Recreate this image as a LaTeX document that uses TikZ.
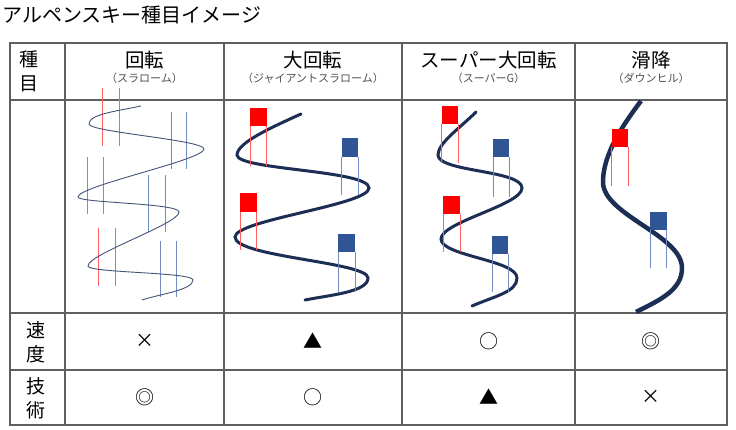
\documentclass[tikz,border=0pt]{standalone}
\usepackage{fontspec}
\setmainfont{Noto Sans CJK JP}
\definecolor{tablegray}{RGB}{95,95,95}
\definecolor{subgray}{RGB}{80,80,80}
\definecolor{slate}{RGB}{68,84,120}
\definecolor{navy}{RGB}{28,46,84}
\definecolor{rpolec}{RGB}{255,95,95}
\definecolor{bpolec}{RGB}{115,140,195}
\definecolor{bflagc}{RGB}{47,85,151}
\definecolor{flagred}{RGB}{255,0,0}
\begin{document}
\begin{tikzpicture}[x=1pt,y=-1pt,
  grid/.style={draw=tablegray, line width=1.1pt},
  titletext/.style={font=\fontsize{20}{22}\selectfont, anchor=west, inner sep=0pt},
  head/.style={font=\fontsize{19.5}{22}\selectfont, inner sep=0pt},
  sub/.style={font=\fontsize{11}{12}\selectfont, text=subgray, inner sep=0pt},
  rowlab/.style={font=\fontsize{19}{24}\selectfont, align=center, inner sep=0pt},
  sym/.style={font=\fontsize{19}{22}\selectfont, inner sep=0pt},
  thinline/.style={draw=slate, line width=0.9pt},
  thickline/.style={draw=navy, line width=3pt, line cap=round},
  thickerline/.style={draw=navy, line width=4.5pt},
  rpole/.style={draw=rpolec, line width=0.9pt},
  bpole/.style={draw=bpolec, line width=0.9pt},
  rflag/.style={fill=flagred},
  bflag/.style={fill=bflagc}]
\useasboundingbox (0,0) rectangle (736,430);
\fill[white] (0,0) rectangle (736,430);

% title
\node[titletext] (title) at (2,15) {アルペンスキー種目イメージ};

% table grid
\draw[grid] (10,43) rectangle (727,425);
\draw[grid] (10,100) -- (727,100);
\draw[grid] (10,313) -- (727,313);
\draw[grid] (10,370) -- (727,370);
\draw[grid] (65,43) -- (65,425);
\draw[grid] (224,43) -- (224,425);
\draw[grid] (402,43) -- (402,425);
\draw[grid] (575,43) -- (575,425);

% header
\node[rowlab] (h0) at (29,71) {種\\目};
\node[head] (h1) at (144.5,60) {回転};
\node[sub] (s1) at (144.5,78) {（スラローム）};
\node[head] (h2) at (313,60) {大回転};
\node[sub] (s2) at (313,78) {（ジャイアントスラローム）};
\node[head] (h3) at (488.5,60) {スーパー大回転};
\node[sub] (s3) at (488.5,78) {（スーパーG）};
\node[head] (h4) at (651,60) {滑降};
\node[sub] (s4) at (651,78) {（ダウンヒル）};

% slalom poles
\draw[rpole] (102.7,88) -- (102.7,146) (119.7,88) -- (119.7,146);
\draw[rpole] (87,157) -- (87,214) (103.7,157) -- (103.7,214);
\draw[rpole] (98.7,228) -- (98.7,286) (115.3,228) -- (115.3,286);
\draw[bpole] (171,112) -- (171,169) (186.7,112) -- (186.7,169);
\draw[bpole] (148.7,175) -- (148.7,232) (165.3,175) -- (165.3,232);
\draw[bpole] (160.7,241) -- (160.7,297) (176.7,241) -- (176.7,297);
% slalom course
\draw[thinline] (141,106) .. controls (118,111) and (89,114) .. (89,124)
  .. controls (89,132) and (204,140) .. (204,149)
  .. controls (204,160) and (78,186) .. (78,197)
  .. controls (78,203) and (179,203) .. (179,212)
  .. controls (179,224) and (88,254) .. (88,266)
  .. controls (88,273) and (193,272) .. (193,280)
  .. controls (193,290) and (160,294) .. (142,300);

% giant slalom course
\draw[thickline] (301,114) .. controls (270,128) and (237,143) .. (237,155)
  .. controls (237,170) and (369,170) .. (369,188)
  .. controls (369,205) and (235,220) .. (235,237)
  .. controls (235,257) and (368,262) .. (368,278)
  .. controls (368,292) and (330,295) .. (305,300);
\fill[rflag] (250,107.7) rectangle (266.7,126);
\draw[rpole] (250,126) -- (250,165.7) (266.7,126) -- (266.7,165.7);
\fill[bflag] (341.7,138.3) rectangle (358.3,156.7);
\draw[bpole] (341.7,156.7) -- (341.7,195) (358.3,156.7) -- (358.3,195);
\fill[rflag] (240,193.3) rectangle (256.7,211.7);
\draw[rpole] (240,211.7) -- (240,250.3) (256.7,211.7) -- (256.7,250.3);
\fill[bflag] (338.3,234) rectangle (355,252.3);
\draw[bpole] (338.3,252.3) -- (338.3,291.7) (355,252.3) -- (355,291.7);

% super-G course
\draw[thickline] (476,112) .. controls (460,128) and (438,143) .. (438,155)
  .. controls (438,172) and (522,170) .. (522,188)
  .. controls (522,205) and (441,222) .. (441,239)
  .. controls (441,256) and (517,260) .. (517,278)
  .. controls (517,292) and (495,296) .. (472,306);
\fill[rflag] (441.7,105.7) rectangle (458.3,124);
\draw[rpole] (441.7,124) -- (441.7,163.3) (458.3,124) -- (458.3,163.3);
\fill[bflag] (493.3,139.3) rectangle (509.3,157.3);
\draw[bpole] (493.3,157.3) -- (493.3,196.7) (509.3,157.3) -- (509.3,196.7);
\fill[rflag] (443.3,195.7) rectangle (460,214);
\draw[rpole] (443.3,214) -- (443.3,252.3) (460,214) -- (460,252.3);
\fill[bflag] (492.3,235.7) rectangle (508.3,254);
\draw[bpole] (492.3,254) -- (492.3,292.3) (508.3,254) -- (508.3,292.3);

% downhill course
\draw[thickerline] (641,101) .. controls (615,135) and (603,160) .. (603,182)
  .. controls (603,215) and (682,235) .. (682,268)
  .. controls (682,290) and (660,300) .. (636,312);
\fill[rflag] (611.7,129) rectangle (628.3,147.3);
\draw[rpole] (611.7,147.3) -- (611.7,186) (628.3,147.3) -- (628.3,186);
\fill[bflag] (650,211.7) rectangle (666.7,230);
\draw[bpole] (650,230) -- (650,268.3) (666.7,230) -- (666.7,268.3);

% speed row
\node[rowlab] (r1) at (36,342) {速\\度};
\node[sym] (sp1) at (144.5,341) {×};
\node[sym] (sp2) at (313,341) {▲};
\node[sym] (sp3) at (488.5,341) {○};
\node[sym] (sp4) at (651,341) {◎};

% technique row
\node[rowlab] (r2) at (36,398) {技\\術};
\node[sym] (te1) at (144.5,397) {◎};
\node[sym] (te2) at (313,397) {○};
\node[sym] (te3) at (488.5,397) {▲};
\node[sym] (te4) at (651,397) {×};
\end{tikzpicture}
\end{document}
